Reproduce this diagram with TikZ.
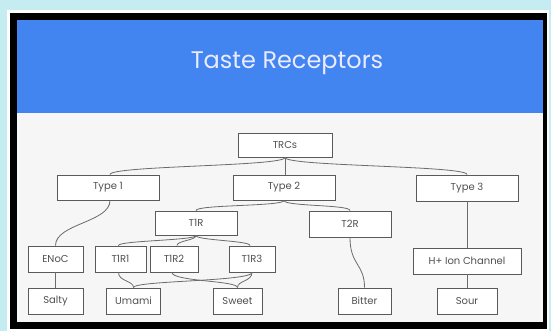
\documentclass[tikz,border=0pt]{standalone}
\usepackage{fontspec}
\setmainfont{Poppins}
\definecolor{bgcyan}{HTML}{C4ECF1}
\definecolor{hdrblue}{HTML}{4284F0}
\definecolor{panel}{HTML}{F6F6F6}
\definecolor{edge}{HTML}{5A5A5A}
\definecolor{txt}{HTML}{505050}
\begin{document}
\begin{tikzpicture}[x=1pt,y=-1pt,
  box/.style={draw=edge, line width=0.9pt, fill=white, inner sep=0pt, text=txt,
    font=\fontsize{10}{11}\selectfont},
  link/.style={draw=edge!90, line width=0.8pt}]
\useasboundingbox (0,0) rectangle (551,331);
\fill[bgcyan] (0,0) rectangle (551,331);
\fill[white] (7,10) rectangle (549,331);
\fill[black] (10,13) rectangle (547,329);
\fill[panel] (17,113) rectangle (543,322);
\fill[hdrblue] (17,20) rectangle (543,113);
\node[text=white!92!blue, font=\fontsize{24}{28}\selectfont] (title) at (287,63) {Taste Receptors};

\node[box, minimum width=94, minimum height=24] (trcs) at (285,145) {TRCs};
\node[box, minimum width=102, minimum height=25] (type1) at (108,187.5) {Type 1};
\node[box, minimum width=102, minimum height=25] (type2) at (284,187.5) {Type 2};
\node[box, minimum width=102, minimum height=26] (type3) at (467,188) {Type 3};
\node[box, minimum width=82, minimum height=24] (t1r) at (196,223) {T1R};
\node[box, minimum width=82, minimum height=26] (t2r) at (350,224) {T2R};
\node[box, minimum width=55, minimum height=26] (enoc) at (55.5,259) {ENoC};
\node[box, minimum width=51, minimum height=26] (t1r1) at (120.5,259) {T1R1};
\node[box, minimum width=48, minimum height=26] (t1r2) at (174,259) {T1R2};
\node[box, minimum width=46, minimum height=26] (t1r3) at (252,259) {T1R3};
\node[box, minimum width=108, minimum height=26] (hion) at (467,261) {H+ Ion Channel};
\node[box, minimum width=55, minimum height=26] (salty) at (55.5,301) {Salty};
\node[box, minimum width=54, minimum height=26] (umami) at (133.5,301) {Umami};
\node[box, minimum width=49, minimum height=26] (sweet) at (237.5,301) {Sweet};
\node[box, minimum width=53, minimum height=26] (bitter) at (364.5,301) {Bitter};
\node[box, minimum width=60, minimum height=26] (sour) at (467,301) {Sour};

\draw[link] (trcs.south) .. controls +(0,9) and +(0,-9) .. ([xshift=2]type1.north);
\draw[link] (trcs.south) -- (type2.north -| trcs.south);
\draw[link] (trcs.south) .. controls +(0,9) and +(0,-9) .. (type3.north);
\draw[link] (type2.south) .. controls +(0,6) and +(0,-6) .. (t1r.north);
\draw[link] (type2.south) .. controls +(0,6) and +(0,-6) .. (t2r.north);
\draw[link] ([xshift=2]type1.south) .. controls +(0,22) and +(0,-22) .. (enoc.north);
\draw[link] (t1r.south) .. controls +(0,5) and +(0,-5) .. ([xshift=-2]t1r1.north);
\draw[link] (t1r.south) .. controls +(0,5) and +(0,-5) .. ([xshift=3]t1r2.north);
\draw[link] (t1r.south) .. controls +(0,5) and +(0,-5) .. ([xshift=-2]t1r3.north);
\draw[link] (type3.south) -- (hion.north);
\draw[link] (t2r.south) .. controls +(0,28) and +(0,-24) .. (bitter.north);
\draw[link] (enoc.south) -- (salty.north);
\draw[link] (hion.south) -- (sour.north);
\draw[link] ([xshift=-2]t1r1.south) .. controls +(0,9) and +(0,-7) .. (umami.north);
\draw[link] (t1r3.south) .. controls +(0,9) and +(0,-7) .. (umami.north);
\draw[link] ([xshift=-2]t1r2.south) .. controls +(0,9) and +(0,-7) .. (sweet.north);
\draw[link] (t1r3.south) .. controls +(0,9) and +(0,-7) .. (sweet.north);
\end{tikzpicture}
\end{document}
